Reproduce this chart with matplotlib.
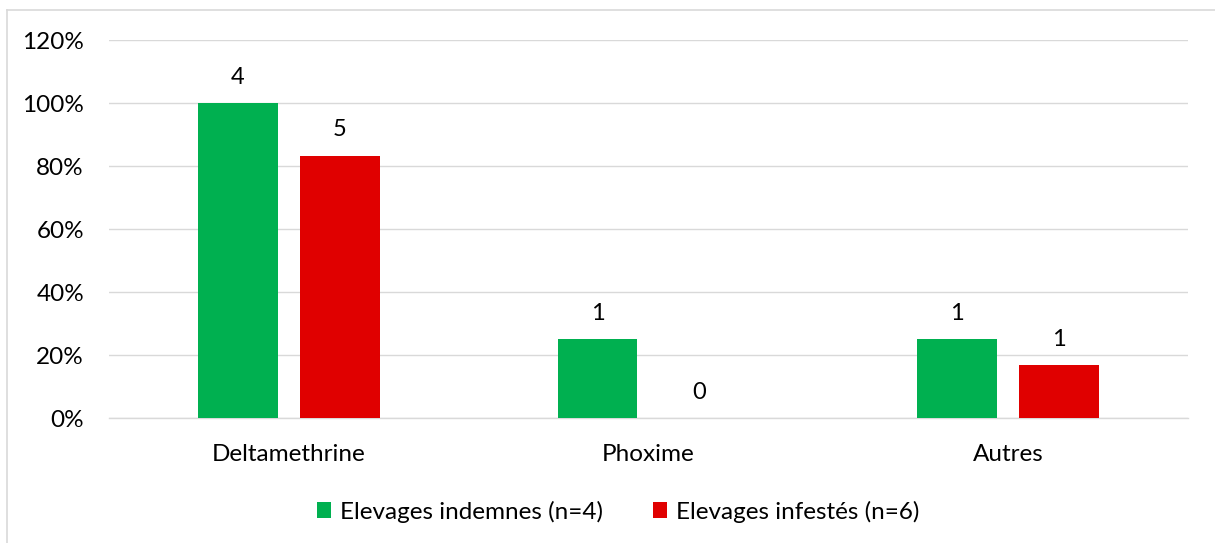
import numpy as np
import matplotlib
matplotlib.use('Agg')
import matplotlib.pyplot as plt
from matplotlib.lines import Line2D
from matplotlib.ticker import FuncFormatter

plt.rcParams['font.family'] = ['Lato', 'DejaVu Sans']

categories = ['Deltamethrine', 'Phoxime', 'Autres']
series_names = ['Elevages indemnes (n=4)', 'Elevages infestés (n=6)']
indemnes_pct = [100.0, 25.0, 25.0]
infestes_pct = [83.33, 0.0, 16.67]
indemnes_n = [4, 1, 1]
infestes_n = [5, 0, 1]

green = '#00B050'
red = '#E00000'
grid_col = '#D9D9D9'

fig = plt.figure(figsize=(12.15, 5.43), dpi=100)
ax = fig.add_axes([0.0897, 0.2302, 0.8881, 0.6961])

x = np.arange(len(categories))
w = 0.222
off = 0.142
b1 = ax.bar(x - off, indemnes_pct, w, color=green, label=series_names[0], zorder=3)
b2 = ax.bar(x + off, infestes_pct, w, color=red, label=series_names[1], zorder=3)

# counts above bars
for bars, counts in ((b1, indemnes_n), (b2, infestes_n)):
    for rect, c in zip(bars, counts):
        ax.annotate(str(c), (rect.get_x() + rect.get_width() / 2, rect.get_height()),
                    xytext=(0, 11), textcoords='offset points',
                    ha='center', va='bottom', fontsize=17)

ax.set_xlim(-0.5, len(categories) - 0.5)
ax.set_ylim(0, 120)
ax.set_yticks(np.arange(0, 121, 20))
ax.yaxis.set_major_formatter(FuncFormatter(lambda v, p: f'{v:.0f}%'))
ax.set_xticks(x)
ax.set_xticklabels(categories)
ax.tick_params(axis='both', length=0, labelsize=17.5, colors='#000000')
ax.tick_params(axis='y', pad=18)
ax.tick_params(axis='x', pad=18.5)
ax.grid(axis='y', color=grid_col, lw=1, zorder=0)
for s in ('top', 'right', 'left'):
    ax.spines[s].set_visible(False)
ax.spines['bottom'].set_color(grid_col)
ax.spines['bottom'].set_linewidth(1)

leg = fig.legend(handles=[b1, b2], loc='center', bbox_to_anchor=(0.509, 0.058),
                 ncol=2, frameon=False, fontsize=17.5, handlelength=0.58,
                 handleheight=0.58, handletextpad=0.37, columnspacing=2.05)

# chart border (top and left edges visible)
fig.add_artist(Line2D([7 / 1215, 1.0], [1 - 10 / 543, 1 - 10 / 543], color=grid_col, lw=1.2))
fig.add_artist(Line2D([7 / 1215, 7 / 1215], [0, 1 - 10 / 543], color=grid_col, lw=1.2))

fig.savefig('out.png', dpi=100)
